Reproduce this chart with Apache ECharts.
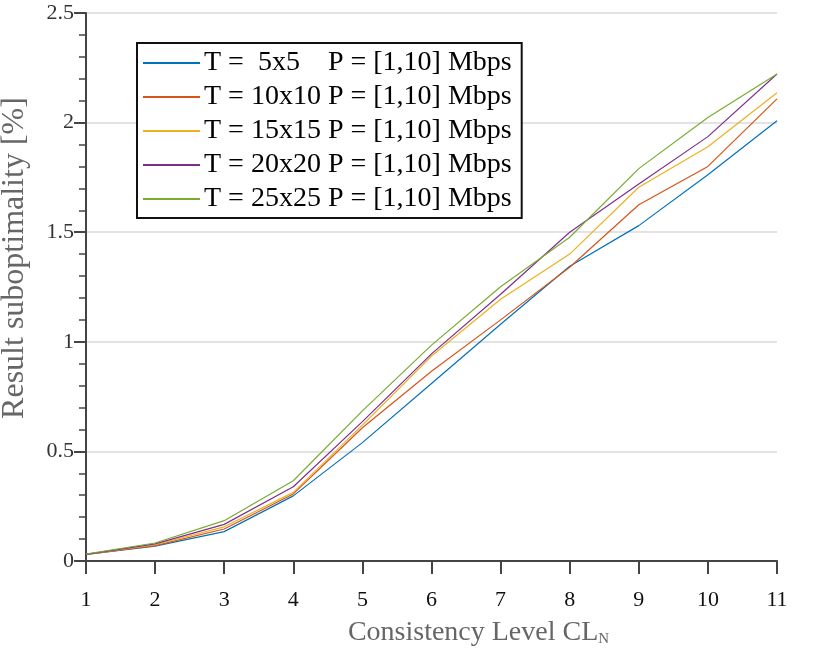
<!DOCTYPE html>
<html>
<head>
<meta charset="utf-8">
<script src="https://cdn.jsdelivr.net/npm/echarts@6/dist/echarts.min.js"></script>
<style>
  html, body { margin: 0; padding: 0; background: #fff; }
  #chart { width: 821px; height: 657px; }
</style>
</head>
<body>
<div id="chart"></div>
<script>
// consistency levels on the x axis
var levels = [1, 2, 3, 4, 5, 6, 7, 8, 9, 10, 11];

// suboptimality [%]
var t5  = [0.030, 0.068, 0.134, 0.297, 0.540, 0.810, 1.080, 1.345, 1.530, 1.762, 2.008];
var t10 = [0.030, 0.070, 0.146, 0.306, 0.608, 0.866, 1.100, 1.340, 1.625, 1.800, 2.108];
var t15 = [0.030, 0.074, 0.156, 0.313, 0.620, 0.935, 1.194, 1.400, 1.705, 1.890, 2.136];
var t20 = [0.030, 0.078, 0.167, 0.339, 0.636, 0.945, 1.217, 1.500, 1.720, 1.936, 2.222];
var t25 = [0.032, 0.082, 0.184, 0.366, 0.685, 0.985, 1.251, 1.477, 1.790, 2.023, 2.222];

var names = [
  'T =  5x5    P = [1,10] Mbps',
  'T = 10x10 P = [1,10] Mbps',
  'T = 15x15 P = [1,10] Mbps',
  'T = 20x20 P = [1,10] Mbps',
  'T = 25x25 P = [1,10] Mbps'
];
var colors = ['#0072BD', '#D95319', '#EDB120', '#7E2F8E', '#77AC30'];
var allData = [t5, t10, t15, t20, t25];

var serif = '"Liberation Serif", "DejaVu Serif", serif';
var chart = echarts.init(document.getElementById('chart'));

function pairs(vals) {
  return vals.map(function (v, i) { return [levels[i], v]; });
}

var series = allData.map(function (vals, i) {
  return {
    name: names[i],
    type: 'line',
    data: pairs(vals),
    showSymbol: false,
    symbol: 'none',
    lineStyle: { width: 1.2, color: colors[i] },
    itemStyle: { color: colors[i] },
    animation: false
  };
});

var option = {
  backgroundColor: '#fff',
  textStyle: { fontFamily: serif },
  grid: { left: 86, right: 44, top: 13, bottom: 96, outerBoundsMode: 'none' },
  legend: {
    orient: 'vertical',
    left: 137,
    top: 43,
    backgroundColor: '#fff',
    borderColor: '#111',
    borderWidth: 2,
    borderRadius: 0,
    padding: [6, 10, 5, 6],
    itemGap: 6,
    itemWidth: 57,
    itemHeight: 2,
    icon: 'rect',
    textStyle: { fontFamily: serif, fontSize: 28, color: '#000', padding: [0, 0, 0, -1] },
    data: names
  },
  xAxis: {
    type: 'value',
    min: 1,
    max: 11,
    interval: 1,
    name: '{a|Consistency Level CL}{b|N}',
    nameLocation: 'middle',
    nameGap: 57,
    nameTextStyle: {
      padding: [0, 0, 0, 94],
      rich: {
        a: { fontFamily: serif, fontSize: 28, color: '#666' },
        b: { fontFamily: serif, fontSize: 15, color: '#666', padding: [14, 0, 0, 0] }
      }
    },
    axisLine: { onZero: false, lineStyle: { color: '#444', width: 2 } },
    axisTick: { inside: false, length: 13, lineStyle: { color: '#444', width: 2 } },
    axisLabel: { fontFamily: serif, fontSize: 22, color: '#111', margin: 28 },
    splitLine: { show: false }
  },
  yAxis: {
    type: 'value',
    min: 0,
    max: 2.5,
    interval: 0.5,
    name: 'Result suboptimality [%]',
    nameLocation: 'middle',
    nameGap: 55,
    nameTextStyle: { fontFamily: serif, fontSize: 32, color: '#666', padding: [0, 0, 0, 58] },
    axisLine: { show: true, lineStyle: { color: '#444', width: 2 } },
    axisTick: { show: true, inside: false, length: 12, lineStyle: { color: '#444', width: 2 } },
    minorTick: { show: true, splitNumber: 5, length: 7, lineStyle: { color: '#444', width: 1.5 } },
    axisLabel: { fontFamily: serif, fontSize: 22, color: '#333', margin: 12 },
    splitLine: { show: true, lineStyle: { color: '#e3e3e3', width: 2 } }
  },
  series: series
};

chart.setOption(option);
</script>
</body>
</html>
